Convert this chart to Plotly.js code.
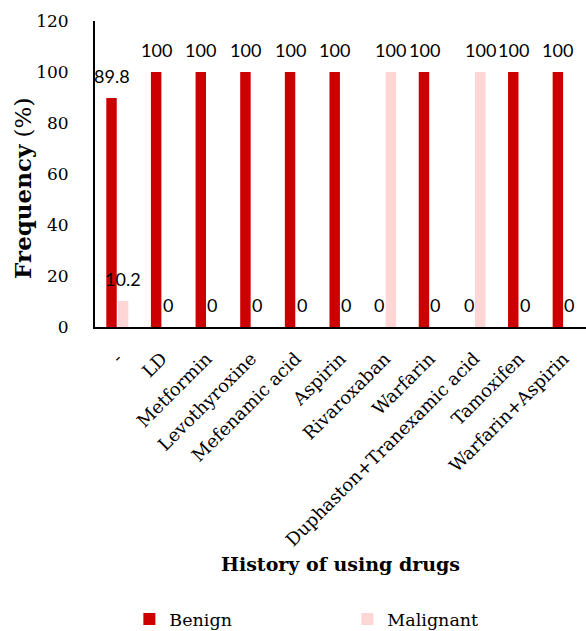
<!DOCTYPE html>
<html>
<head>
<meta charset="utf-8">
<script src="https://cdn.plot.ly/plotly-3.0.1.min.js"></script>
<style>html,body{margin:0;padding:0;background:#fff;}#chart{width:586px;height:631px;}</style>
</head>
<body>
<div id="chart"></div>
<script>
const categories = ["-", "LD", "Metformin", "Levothyroxine", "Mefenamic acid", "Aspirin", "Rivaroxaban", "Warfarin", "Duphaston+Tranexamic acid", "Tamoxifen", "Warfarin+Aspirin"];
const benign =    [89.8, 100, 100, 100, 100, 100, 0, 100, 0, 100, 100];
const malignant = [10.2, 0, 0, 0, 0, 0, 100, 0, 100, 0, 0];
const yTicks = [0, 20, 40, 60, 80, 100, 120];

const BENIGN_COLOR = "#cc0000";
const MALIGNANT_COLOR = "#ffd5d5";
const SERIF = "DejaVu Serif";

const traces = [
  {type: "bar", name: "Benign", x: categories, y: benign, marker: {color: BENIGN_COLOR}, hoverinfo: "none"},
  {type: "bar", name: "Malignant", x: categories, y: malignant, marker: {color: MALIGNANT_COLOR}, hoverinfo: "none"}
];

const annotations = [];
[[benign, -5.7], [malignant, 5.7]].forEach(([vals, dx]) => {
  vals.forEach((v, i) => {
    annotations.push({
      x: categories[i], y: v, xref: "x", yref: "y", text: String(v), showarrow: false,
      xshift: dx, yshift: 22, yanchor: "middle", xanchor: "center",
      font: {family: "Lato", size: 18, color: "#000"}
    });
  });
});
// y-axis title (placed like the reference, below the axis centre)
annotations.push({
  xref: "paper", yref: "paper", x: -0.149, y: 0.454, xanchor: "center", yanchor: "middle",
  text: "<b>Frequency</b> (%)", textangle: -90, showarrow: false,
  font: {family: SERIF, size: 23, color: "#000"}
});

const layout = {
  width: 586, height: 631,
  margin: {l: 95, r: 0, t: 21, b: 304},
  paper_bgcolor: "#fff", plot_bgcolor: "#fff",
  barmode: "group", bargap: 0.48, bargroupgap: 0.1,
  showlegend: true,
  legend: {orientation: "h", xref: "paper", yref: "container", x: 0.07, y: 0.019, xanchor: "left", yanchor: "middle",
           font: {family: SERIF, size: 17.5, color: "#000"}, entrywidth: 173, entrywidthmode: "pixels",
           traceorder: "normal"},
  xaxis: {
    type: "category", range: [-0.5, 10.5], tickangle: -45, showline: true, linecolor: "#000", linewidth: 2,
    ticks: "", showgrid: false, zeroline: false, ticklabelstandoff: 12, automargin: false,
    tickfont: {family: SERIF, size: 18, color: "#000"},
    title: {text: "<b>History of using drugs</b>", standoff: 8, font: {family: SERIF, size: 19, color: "#000"}}
  },
  yaxis: {
    range: [0, 120], tickvals: yTicks, ticktext: yTicks.map(String), showline: true, linecolor: "#000", linewidth: 2,
    ticks: "", showgrid: false, zeroline: false, ticklabelstandoff: 21, automargin: false,
    tickfont: {family: SERIF, size: 17, color: "#000"}
  },
  annotations: annotations
};

Plotly.newPlot("chart", traces, layout, {displayModeBar: false, staticPlot: true});
</script>
</body>
</html>
